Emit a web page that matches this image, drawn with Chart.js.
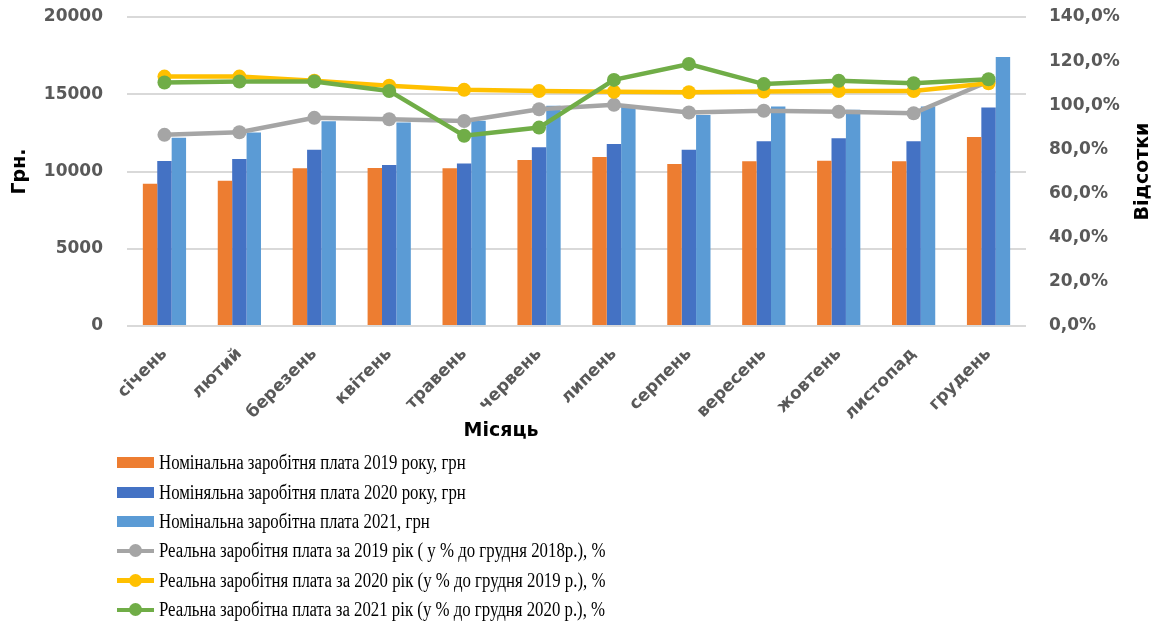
<!DOCTYPE html>
<html>
<head>
<meta charset="utf-8">
<script src="https://cdn.jsdelivr.net/npm/chart.js@4.4.0/dist/chart.umd.min.js"></script>
<style>
html,body{margin:0;padding:0;background:#fff;}
#wrap{position:relative;width:1166px;height:622px;overflow:hidden;}
#c{position:absolute;left:0;top:0;}
#legend{position:absolute;left:117px;top:448px;font-family:"Liberation Serif","Times New Roman",serif;font-size:20px;color:#000;}
.item{height:29.4px;display:flex;align-items:center;white-space:nowrap;}
.sw{width:37px;height:14px;position:relative;margin-right:5px;flex:none;}
.sw .bar{position:absolute;left:0;top:1.5px;width:37px;height:11px;}
.sw .ln{position:absolute;left:0;top:5px;width:37px;height:4.5px;}
.sw .dot{position:absolute;left:12px;top:0.5px;width:13px;height:13px;border-radius:50%;}
.txt{display:inline-block;transform:scaleX(0.84);transform-origin:0 50%;}
</style>
</head>
<body>
<div id="wrap">
<canvas id="c" width="1166" height="622"></canvas>
<div id="legend"></div>
</div>
<script>
const months = ['січень','лютий','березень','квітень','травень','червень','липень','серпень','вересень','жовтень','листопад','грудень'];
const nominal2019 = [9210, 9400, 10210, 10230, 10210, 10750, 10940, 10490, 10660, 10700, 10660, 12240];
const nominal2020 = [10680, 10810, 11410, 10420, 10510, 11570, 11780, 11410, 11960, 12150, 11960, 14140];
const nominal2021 = [12190, 12520, 13260, 13170, 13280, 14250, 14300, 13660, 14200, 14000, 14200, 17410];
const real2019 = [86.6, 87.8, 94.3, 93.7, 92.9, 98.2, 100.2, 96.7, 97.5, 97.1, 96.4, 110.8];
const real2020 = [113.0, 113.0, 111.1, 108.9, 107.0, 106.5, 106.1, 105.9, 106.2, 106.5, 106.5, 110.0];
const real2021 = [110.3, 110.8, 110.8, 106.5, 86.2, 89.9, 111.5, 118.7, 109.6, 111.1, 110.0, 111.8];
const leftMin = 0, leftMax = 20000, leftStep = 5000;
const rightMin = 0, rightMax = 140, rightStep = 20;

const labels = {
  n19: 'Номінальна заробітня плата 2019 року, грн',
  n20: 'Номіняльна заробітня плата 2020 року, грн',
  n21: 'Номінальна заробітна плата 2021, грн',
  r19: 'Реальна заробітня плата за 2019 рік ( у % до грудня 2018р.), %',
  r20: 'Реальна заробітня плата за 2020 рік (у % до грудня 2019 р.), %',
  r21: 'Реальна заробітна плата за 2021 рік (у % до грудня 2020 р.), %'
};

const tickFont = {family: '"DejaVu Sans"', size: 17, weight: 'bold'};
const tickColor = '#595959';

function lineDs(label, data, color, order){
  return {type:'line', label, data, yAxisID:'y1', borderColor:color, backgroundColor:color,
    pointBackgroundColor:color, pointBorderColor:color, borderWidth:4.5, pointRadius:7,
    pointHoverRadius:7, pointBorderWidth:0, tension:0, order};
}
function barDs(label, data, color, order){
  return {type:'bar', label, data, yAxisID:'y', backgroundColor:color, borderWidth:0,
    categoryPercentage:0.577, barPercentage:1.0, order};
}

const titlesPlugin = {
  id:'titles',
  afterDraw(chart){
    const ctx = chart.ctx, ca = chart.chartArea;
    const cy = (ca.top + ca.bottom)/2;
    ctx.save();
    ctx.font = 'bold 19px "DejaVu Sans"';
    ctx.fillStyle = '#000';
    ctx.textAlign = 'center';
    ctx.textBaseline = 'middle';
    ctx.save(); ctx.translate(20, cy); ctx.rotate(-Math.PI/2); ctx.fillText('Грн.', 0, 0); ctx.restore();
    ctx.save(); ctx.translate(1143, cy); ctx.rotate(-Math.PI/2); ctx.fillText('Відсотки', 0, 0); ctx.restore();
    ctx.fillText('Місяць', 501, 431);
    ctx.restore();
  }
};

const chart = new Chart(document.getElementById('c'), {
  data: {
    labels: months,
    datasets: [
      barDs(labels.n19, nominal2019, '#ED7D31', 4),
      barDs(labels.n20, nominal2020, '#4472C4', 5),
      barDs(labels.n21, nominal2021, '#5B9BD5', 6),
      lineDs(labels.r19, real2019, '#A5A5A5', 3),
      lineDs(labels.r20, real2020, '#FFC000', 2),
      lineDs(labels.r21, real2021, '#70AD47', 1)
    ]
  },
  options: {
    responsive:false, animation:false,
    layout:{padding:{top:17, left:0, right:0, bottom:0}},
    plugins:{legend:{display:false}, tooltip:{enabled:false}},
    scales:{
      x:{
        grid:{display:false, drawTicks:false},
        border:{display:false},
        ticks:{font:tickFont, color:tickColor, minRotation:45, maxRotation:45, padding:18, autoSkip:false},
        afterFit(s){ s.height = 622 - 326; }
      },
      y:{
        position:'left', min:leftMin, max:leftMax,
        ticks:{stepSize:leftStep, font:tickFont, color:tickColor, padding:0, callback:(v)=> String(v)},
        grid:{color:'#d9d9d9', lineWidth:2, drawTicks:true, tickLength:24, tickColor:'rgba(0,0,0,0)'},
        border:{display:false},
        afterFit(s){ s.width = 127; }
      },
      y1:{
        position:'right', min:rightMin, max:rightMax,
        ticks:{stepSize:rightStep, font:tickFont, color:tickColor, padding:0,
          callback:(v)=> v.toFixed(1).replace('.', ',') + '%'},
        grid:{drawOnChartArea:false, drawTicks:true, tickLength:23, tickColor:'rgba(0,0,0,0)'},
        border:{display:false},
        afterFit(s){ s.width = 140; }
      }
    }
  },
  plugins:[titlesPlugin]
});

const leg = document.getElementById('legend');
chart.data.datasets.forEach(ds => {
  const it = document.createElement('div'); it.className = 'item';
  const sw = document.createElement('span'); sw.className = 'sw';
  if (ds.type === 'bar') {
    const b = document.createElement('span'); b.className = 'bar'; b.style.background = ds.backgroundColor; sw.appendChild(b);
  } else {
    const l = document.createElement('span'); l.className = 'ln'; l.style.background = ds.borderColor; sw.appendChild(l);
    const d = document.createElement('span'); d.className = 'dot'; d.style.background = ds.borderColor; sw.appendChild(d);
  }
  const t = document.createElement('span'); t.className = 'txt'; t.textContent = ds.label;
  it.appendChild(sw); it.appendChild(t); leg.appendChild(it);
});
</script>
</body>
</html>
